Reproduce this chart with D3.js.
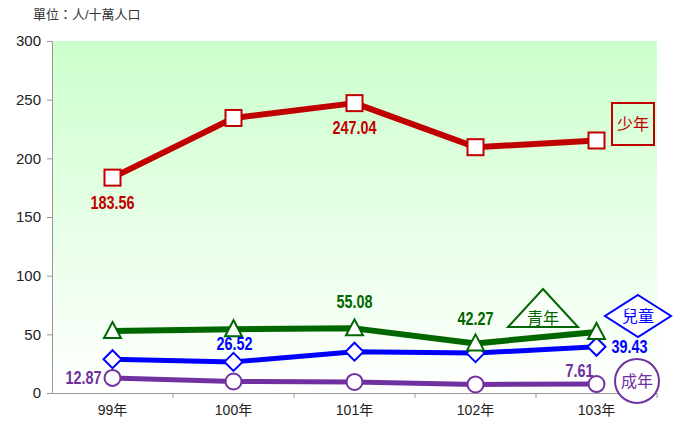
<!DOCTYPE html>
<html><head><meta charset="utf-8">
<script src="https://cdn.jsdelivr.net/npm/d3@7"></script>
<style>body{margin:0;background:#fff;}svg{display:block;}</style>
</head><body>
<svg id="c" width="673" height="421"></svg>
<script>
const years = ["99年","100年","101年","102年","103年"];
const teen   = [183.56, 234.4, 247.04, 209.5, 215.2];   // 少年
const youth  = [52.8, 54.4, 55.08, 42.27, 52.0];        // 青年
const child  = [28.8, 26.52, 35.2, 34.0, 39.43];        // 兒童
const adult  = [12.87, 9.8, 9.4, 7.3, 7.61];            // 成年
const yTicks = [0, 50, 100, 150, 200, 250, 300];
const unitLabel = "單位：人/十萬人口";

const svg = d3.select("#c");
const L = 52, R = 657, T = 41, B = 393;
const x = d3.scaleBand().domain(years).range([L, R]);
const y = d3.scaleLinear().domain([0, 300]).range([B, T]);
const cx = d => x(d) + x.bandwidth()/2;
const numFont = "'Liberation Sans Narrow','Arial Narrow','Liberation Sans',sans-serif";
const txtFont = "'Liberation Sans','Noto Sans CJK TC',sans-serif";

const defs = svg.append("defs");
const g = defs.append("linearGradient").attr("id","bg").attr("x1",0).attr("y1",0).attr("x2",0).attr("y2",1);
g.append("stop").attr("offset","0%").attr("stop-color","#ccffcc");
g.append("stop").attr("offset","100%").attr("stop-color","#ffffff");
svg.append("rect").attr("x",L).attr("y",T).attr("width",R-L).attr("height",B-T).attr("fill","url(#bg)");

svg.append("text").attr("x",33).attr("y",19).attr("font-size",13).attr("fill","#333")
  .attr("font-family",txtFont).text(unitLabel);

// axes
const ya = svg.append("g").attr("transform",`translate(${L},0)`)
  .call(d3.axisLeft(y).tickValues(yTicks).tickSize(5).tickPadding(6));
ya.select(".domain").attr("stroke","#999");
ya.selectAll(".tick line").attr("stroke","#999");
ya.selectAll("text").attr("font-size",15).attr("font-family",txtFont).attr("fill","#222");

const xa = svg.append("g").attr("transform",`translate(0,${B})`)
  .call(d3.axisBottom(x).tickSize(0).tickPadding(12));
xa.select(".domain").attr("stroke","#999");
xa.selectAll("text").attr("font-size",14).attr("font-family",txtFont).attr("fill","#222");
xa.selectAll(".bt").data(years.slice(1)).enter().append("line").attr("class","bt")
  .attr("x1",d=>x(d)).attr("x2",d=>x(d)).attr("y1",0).attr("y2",5).attr("stroke","#999");
xa.append("line").attr("x1",R).attr("x2",R).attr("y1",0).attr("y2",5).attr("stroke","#999");

const line = d3.line().x((d,i)=>cx(years[i])).y(d=>y(d));

const series = [
  {vals: adult, color:"#7030a0", w:5, shape:"circle"},
  {vals: child, color:"#0000ff", w:5, shape:"diamond"},
  {vals: youth, color:"#006600", w:6, shape:"triangle"},
  {vals: teen,  color:"#c00000", w:6, shape:"square"}
];
function marker(sel, shape, color){
  if(shape==="square") sel.append("rect").attr("x",-8).attr("y",-8).attr("width",16).attr("height",16);
  else if(shape==="circle") sel.append("circle").attr("r",8);
  else if(shape==="diamond") sel.append("path").attr("d","M0,-9L9,0L0,9L-9,0Z");
  else sel.append("path").attr("d","M0,-9L8.5,7L-8.5,7Z");
  sel.selectAll("*").attr("fill","#fff").attr("stroke",color).attr("stroke-width",2);
}
series.forEach(s=>{
  svg.append("path").datum(s.vals).attr("d",line).attr("fill","none")
    .attr("stroke",s.color).attr("stroke-width",s.w).attr("stroke-linejoin","round");
});
series.forEach(s=>{
  s.vals.forEach((v,i)=>{
    const m = svg.append("g").attr("transform",`translate(${cx(years[i])},${y(v)})`);
    marker(m, s.shape, s.color);
  });
});

// data labels (condensed bold)
const labels = [
  {s:teen, i:0, dx:0, dy:31, a:"middle", c:"#c00000"},
  {s:teen, i:2, dx:0, dy:31, a:"middle", c:"#c00000"},
  {s:youth, i:2, dx:0, dy:-20, a:"middle", c:"#006600"},
  {s:youth, i:3, dx:0, dy:-18, a:"middle", c:"#006600"},
  {s:child, i:1, dx:1, dy:-12, a:"middle", c:"#0000ff"},
  {s:child, i:4, dx:15, dy:6, a:"start", c:"#0000ff"},
  {s:adult, i:0, dx:-11, dy:6, a:"end", c:"#7030a0"},
  {s:adult, i:4, dx:-17, dy:-7, a:"middle", c:"#7030a0"}
];
labels.forEach(l=>{
  svg.append("g").attr("transform",`translate(${cx(years[l.i])+l.dx},${y(l.s[l.i])+l.dy}) scale(0.8,1)`)
    .append("text").attr("text-anchor",l.a).attr("font-family",numFont).attr("font-weight","bold")
    .attr("font-size",18).attr("fill",l.c).text(l.s[l.i].toFixed(2));
});

// legend shapes
const lg = svg.append("g").attr("font-family",txtFont).attr("font-size",16).attr("text-anchor","middle");
lg.append("rect").attr("x",612).attr("y",103).attr("width",42).attr("height",42)
  .attr("fill","none").attr("stroke","#c00000").attr("stroke-width",2);
lg.append("text").attr("x",633).attr("y",130).attr("fill","#c00000").text("少年");
lg.append("path").attr("d","M543,289L578,327L508,327Z").attr("fill","#fff").attr("fill-opacity",0.6)
  .attr("stroke","#006600").attr("stroke-width",2);
lg.append("text").attr("x",543).attr("y",324).attr("fill","#006600").text("青年");
lg.append("path").attr("d","M638,295L671,316L638,337L605,316Z").attr("fill","#fff")
  .attr("stroke","#0000ff").attr("stroke-width",2);
lg.append("text").attr("x",638).attr("y",322).attr("fill","#0000ff").text("兒童");
lg.append("circle").attr("cx",637).attr("cy",381).attr("r",22).attr("fill","#fff")
  .attr("stroke","#7030a0").attr("stroke-width",2);
lg.append("text").attr("x",637).attr("y",387).attr("fill","#7030a0").text("成年");
</script>
</body></html>
